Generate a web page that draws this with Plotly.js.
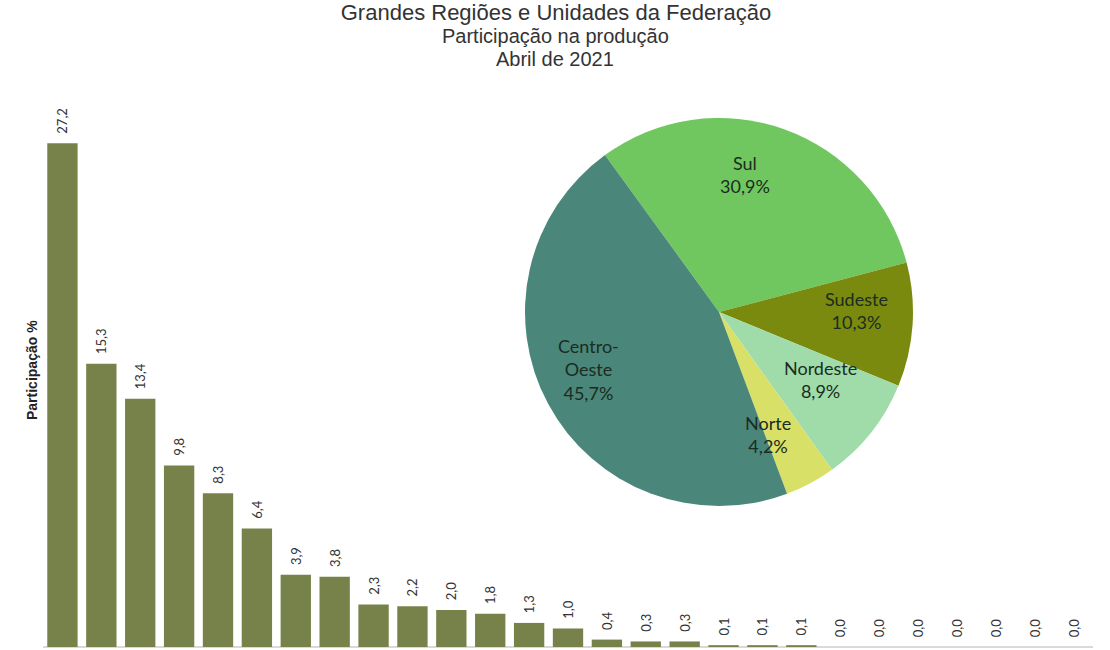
<!DOCTYPE html>
<html>
<head>
<meta charset="utf-8">
<script src="https://cdn.plot.ly/plotly-3.0.1.min.js"></script>
<style>html,body{margin:0;padding:0;background:#fff;}#chart{width:1110px;height:650px;}</style>
</head>
<body>
<div id="chart"></div>
<script>
// Bar chart: participation by Federation Unit (%), April 2021
const ufs = ['MT','PR','RS','GO','MS','MG','BA','SP','SC','MA','PI','TO','PA','RO','DF','SE','CE','ES','RR','AL','PE','PB','RN','RJ','AC','AM','AP'];
const ufShare = [27.2,15.3,13.4,9.8,8.3,6.4,3.9,3.8,2.3,2.2,2.0,1.8,1.3,1.0,0.4,0.3,0.3,0.1,0.1,0.1,0.0,0.0,0.0,0.0,0.0,0.0,0.0];

// Pie chart: participation by Great Region (%)
const regions = ['Sul','Sudeste','Nordeste','Norte','Centro-Oeste'];
const regionShare = [30.9,10.3,8.9,4.2,45.7];

const titleLines = ['Grandes Regiões e Unidades da Federação','Participação na produção','Abril de 2021'];

// styles / layout helpers (kept apart from the data)
const regionColors = ['#70c760','#7a8a0e','#a0dcaa','#d8e067','#4a877a'];
const M = {l:43, r:17, t:100, b:0}, W = 1110, H = 650;
const PW = W - M.l - M.r, PH = H - M.t - M.b;
const px = x => (x - M.l) / PW;          // pixel -> paper x
const py = y => (H - M.b - y) / PH;      // pixel -> paper y
// label anchor points (pixel centres) for the pie labels
const pieLabelPos = [[745,174],[856,310],[820,380],[768,434],[588,369]];

const barTrace = {
  type:'bar', x: ufs, y: ufShare,
  marker:{color:'#77824a', line:{width:0}},
  texttemplate:'\u00a0\u00a0%{y:.1f}', textposition:'outside', textangle:-90,
  constraintext:'none', cliponaxis:false,
  textfont:{family:'Lato, Liberation Sans, sans-serif', size:13, color:'#333333'},
  hoverinfo:'x+y', showlegend:false
};

const pieTrace = {
  type:'pie', labels: regions, values: regionShare,
  textinfo:'none',
  marker:{colors: regionColors, line:{width:0}},
  sort:false, direction:'clockwise', rotation:-36,
  domain:{x:[px(525), px(913)], y:[py(506), py(118)]},
  showlegend:false
};

const annotations = [];
regions.forEach((r, i) => {
  annotations.push({
    xref:'paper', yref:'paper', x: px(pieLabelPos[i][0]), y: py(pieLabelPos[i][1]),
    xanchor:'center', yanchor:'middle', align:'center', showarrow:false,
    text: r.replace('-', '-<br>') + '<br>' + regionShare[i].toFixed(1).replace('.', ',') + '%',
    font:{family:'Lato, Liberation Sans, sans-serif', size:18, color:'#1b2c20'}
  });
});
[[1, 36], [2, 59]].forEach(([k, y]) => {
  annotations.push({
    xref:'paper', yref:'paper', x: px(555), y: py(y), xanchor:'center', yanchor:'middle',
    showarrow:false, text: titleLines[k],
    font:{family:'Liberation Sans, Arial, sans-serif', size:20, color:'#333333'}
  });
});
annotations.push({
  xref:'paper', yref:'paper', x: px(32), y: py(370), xanchor:'center', yanchor:'middle',
  textangle:-90, showarrow:false, text:'<b>Participação %</b>',
  font:{family:'Liberation Sans, Arial, sans-serif', size:14, color:'#222222'}
});

const layout = {
  width:W, height:H,
  margin:M,
  paper_bgcolor:'#ffffff', plot_bgcolor:'#ffffff',
  separators:',.',
  bargap:0.22,
  title:{
    text: titleLines[0],
    font:{family:'Liberation Sans, Arial, sans-serif', size:22, color:'#333333'},
    x:556 / W, xanchor:'center', xref:'container',
    y:1 - 12/H, yanchor:'middle', yref:'container', pad:{t:0, b:0, l:0, r:0}
  },
  xaxis:{type:'category', range:[-0.5,26.5], showticklabels:false, ticks:'', showgrid:false, showline:false, zeroline:false},
  yaxis:{range:[-0.162,29.54], showticklabels:false, ticks:'', showgrid:false, showline:false,
         zeroline:true, zerolinecolor:'#d9d9d9', zerolinewidth:2},
  annotations: annotations,
  showlegend:false
};

Plotly.newPlot('chart', [barTrace, pieTrace], layout, {displayModeBar:false, staticPlot:true});
</script>
</body>
</html>
